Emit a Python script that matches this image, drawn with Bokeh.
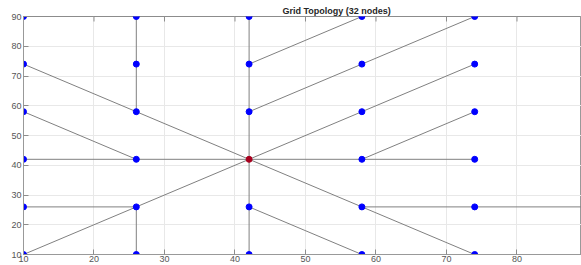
import math
from bokeh.plotting import figure
from bokeh.models import Range1d, ColumnDataSource
from bokeh.embed import file_html
from bokeh.resources import INLINE

# Node coordinates (32 nodes; two lie beyond the visible x-range)
node_x = [10, 10, 10, 10, 10, 10,
          26, 26, 26, 26, 26, 26,
          42, 42, 42, 42, 42, 42,
          58, 58, 58, 58, 58, 58,
          74, 74, 74, 74, 74, 74,
          90, 90]
node_y = [10, 26, 42, 58, 74, 90,
          10, 26, 42, 58, 74, 90,
          10, 26, 42, 58, 74, 90,
          10, 26, 42, 58, 74, 90,
          10, 26, 42, 58, 74, 90,
          26, 90]
center_node = 14  # (42, 42), highlighted in red

# Edges as node index pairs
edge_src = [11, 10, 17, 16, 15, 14, 13, 4, 9, 14, 19, 3, 2, 8, 14, 20, 1, 7,
            0, 7, 14, 21, 16, 15, 22, 20, 13, 19, 25,
            5, 11, 17, 23, 29, 0, 1, 2, 3, 4]
edge_dst = [10, 9, 16, 15, 14, 13, 12, 9, 14, 19, 24, 8, 8, 14, 20, 26, 7, 6,
            7, 14, 21, 28, 23, 22, 29, 27, 18, 25, 30,
            11, 17, 23, 29, 31, 1, 2, 3, 4, 5]

title_text = "Grid Topology (32 nodes)"
ticks = [10, 20, 30, 40, 50, 60, 70, 80, 90]

edges = ColumnDataSource(dict(
    x0=[node_x[i] for i in edge_src], y0=[node_y[i] for i in edge_src],
    x1=[node_x[j] for j in edge_dst], y1=[node_y[j] for j in edge_dst]))
others = [i for i in range(len(node_x)) if i != center_node]
blue = ColumnDataSource(dict(x=[node_x[i] for i in others], y=[node_y[i] for i in others]))
red = ColumnDataSource(dict(x=[node_x[center_node]], y=[node_y[center_node]]))
y_max = max(node_y)
top_ticks = ColumnDataSource(dict(x=ticks, y=[y_max] * len(ticks)))

p = figure(width=581, height=265, output_backend="svg", toolbar_location=None,
           x_range=Range1d(10, 89.15), y_range=Range1d(10, 90),
           min_border_left=23, min_border_right=0, min_border_top=16, min_border_bottom=11,
           background_fill_color="white", border_fill_color="white",
           title=title_text)
p.outline_line_color = "#999999"
p.outline_line_width = 1

p.title.align = "left"
p.title.offset = 259
p.title.standoff = 2
p.title.text_font = "Liberation Sans"
p.title.text_font_style = "bold"
p.title.text_font_size = "9px"
p.title.text_color = "#262626"
p.title.text_line_height = 1.0

tick_color = "#8c8c8c"
for ax in (p.xaxis[0], p.yaxis[0]):
    ax.ticker = ticks
    ax.major_tick_in = 5
    ax.major_tick_out = 0
    ax.minor_tick_in = 0
    ax.minor_tick_out = 0
    ax.axis_line_color = "#999999"
    ax.major_tick_line_color = tick_color
    ax.major_label_text_font = "Liberation Sans"
    ax.major_label_text_font_size = "9px"
    ax.major_label_text_color = "#555555"
    ax.major_label_standoff = 1
p.yaxis[0].major_label_standoff = 2

p.xgrid.ticker = ticks
p.ygrid.ticker = ticks
p.grid.grid_line_color = "#e8e8e8"
p.grid.grid_line_width = 1

# inward tick marks along the top box edge (half of each dash is clipped by the frame)
p.scatter(x="x", y="y", source=top_ticks, marker="dash", size=10, angle=math.pi / 2,
          line_color=tick_color, line_width=1)

p.segment(x0="x0", y0="y0", x1="x1", y1="y1", source=edges,
          line_color="#808080", line_width=1)
p.scatter(x="x", y="y", source=blue, size=6, fill_color="#0000ff", line_color="#0000ff")
p.scatter(x="x", y="y", source=red, size=6, fill_color="#a8001e", line_color="#a8001e")

open("out.html", "w").write(file_html(p, INLINE))
